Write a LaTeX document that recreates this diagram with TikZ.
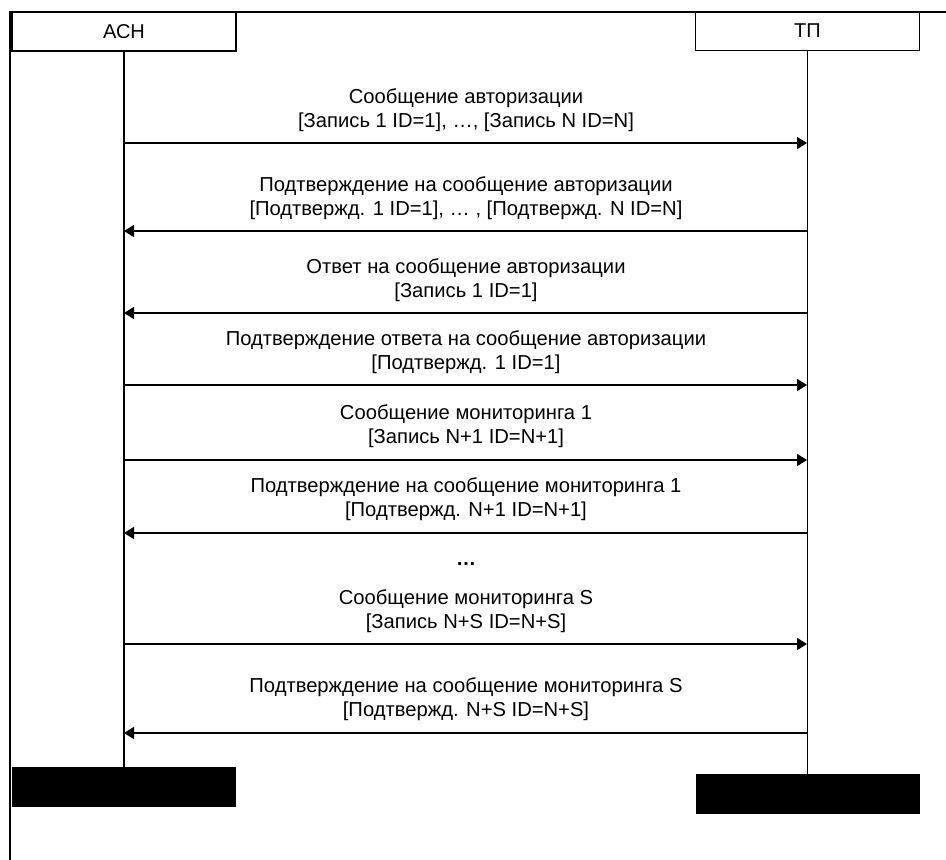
\documentclass[tikz,border=0pt]{standalone}
\usepackage{fontspec}
\setmainfont{Liberation Sans}
\usetikzlibrary{arrows.meta}
\begin{document}
\begin{tikzpicture}[x=1pt,y=-1pt,
  hdr/.style={draw,line width=1.8pt,minimum width=224pt,minimum height=39pt,inner sep=0pt,font=\fontsize{20}{24}\selectfont},
  blk/.style={fill=black,minimum width=224pt,minimum height=40pt,inner sep=0pt},
  life/.style={line width=1.8pt},
  msg/.style={line width=1.6pt,-{Triangle[length=10pt,width=12pt]}},
  lbl/.style={align=center,font=\fontsize{20.2}{24.5}\selectfont,inner sep=0pt}]
\useasboundingbox (0,0) rectangle (946,860);
\draw[line width=1.2pt] (946,12) -- (10,12) -- (10,860);
\node[hdr] (A) at (124,31.5) {АСН};
\node[hdr] (T) at (807.5,31) {ТП};
\node[blk] (Ab) at (124,787) {};
\node[blk] (Tb) at (807.5,794) {};
\draw[life] (A.south) -- (Ab.north);
\draw[life] (T.south) -- (Tb.north);
\foreach \n/\y in {1/143,2/231,3/313,4/385,5/460,6/533,7/644,8/733}{
  \coordinate (l\n) at (124,\y);
  \coordinate (r\n) at (807,\y);
}
\draw[msg] (l1) -- (r1);
\draw[msg] (r2) -- (l2);
\draw[msg] (r3) -- (l3);
\draw[msg] (l4) -- (r4);
\draw[msg] (l5) -- (r5);
\draw[msg] (r6) -- (l6);
\draw[msg] (l7) -- (r7);
\draw[msg] (r8) -- (l8);
\node[lbl] (t1) at (466,110) {Сообщение авторизации\\{}[Запись 1 ID=1], …, [Запись N ID=N]};
\node[lbl] (t2) at (466,198) {Подтверждение на сообщение авторизации\\{}[Подтвержд. 1 ID=1], … , [Подтвержд. N ID=N]};
\node[lbl] (t3) at (466,280) {Ответ на сообщение авторизации\\{}[Запись 1 ID=1]};
\node[lbl] (t4) at (466,352) {Подтверждение ответа на сообщение авторизации\\{}[Подтвержд. 1 ID=1]};
\node[lbl] (t5) at (466,426) {Сообщение мониторинга 1\\{}[Запись N+1 ID=N+1]};
\node[lbl] (t6) at (466,499) {Подтверждение на сообщение мониторинга 1\\{}[Подтвержд. N+1 ID=N+1]};
\node[lbl,font=\fontsize{20}{24}\bfseries] (dots) at (466,564) {…};
\node[lbl] (t7) at (466,611) {Сообщение мониторинга S\\{}[Запись N+S ID=N+S]};
\node[lbl] (t8) at (466,699) {Подтверждение на сообщение мониторинга S\\{}[Подтвержд. N+S ID=N+S]};
\end{tikzpicture}
\end{document}
